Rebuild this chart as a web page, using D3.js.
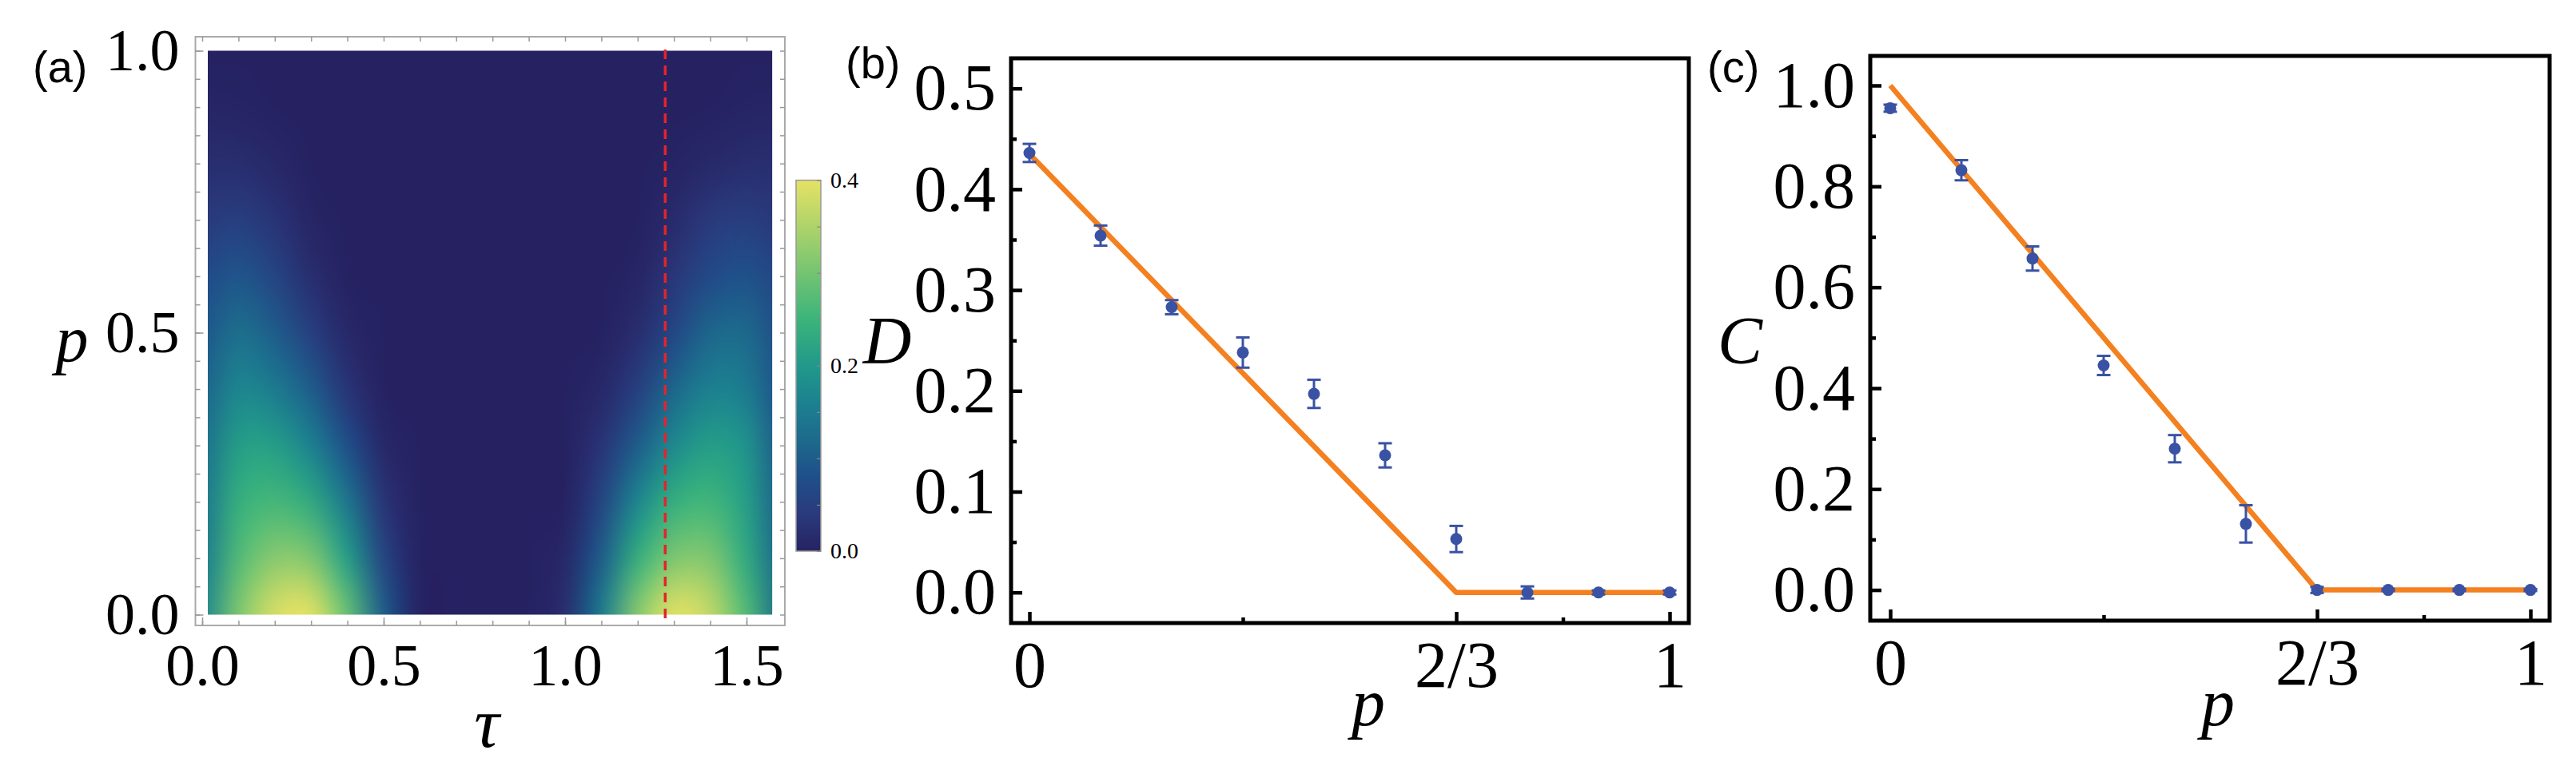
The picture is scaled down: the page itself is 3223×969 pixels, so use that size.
<!DOCTYPE html>
<html>
<head>
<meta charset="utf-8">
<script src="https://cdn.jsdelivr.net/npm/d3@7"></script>
<style>
  body { margin: 0; background: #fff; }
</style>
</head>
<body>
<svg id="chart" width="3223" height="969" font-family="Liberation Serif, Times New Roman, serif"></svg>
<script>
// ---- data ----
// (a) heat map grid: tau = 0, 0.1, ... 1.6 ; p = 0, 0.1, ... 1.0
const tauGrid = [0, 0.1, 0.2, 0.3, 0.4, 0.5, 0.6, 0.7, 0.8, 0.9, 1.0, 1.1, 1.2, 1.3, 1.4, 1.5, 1.6];
const pGrid = [0, 0.1, 0.2, 0.3, 0.4, 0.5, 0.6, 0.7, 0.8, 0.9, 1.0];
const heatRows = [
  [0.17, 0.31, 0.39, 0.40, 0.29, 0.10, 0, 0, 0, 0, 0.02, 0.15, 0.32, 0.40, 0.37, 0.27, 0.12],
  [0.15, 0.27, 0.32, 0.31, 0.21, 0.06, 0, 0, 0, 0, 0.01, 0.10, 0.24, 0.31, 0.31, 0.23, 0.11],
  [0.14, 0.24, 0.26, 0.23, 0.14, 0.03, 0, 0, 0, 0, 0, 0.06, 0.17, 0.24, 0.255, 0.21, 0.10],
  [0.13, 0.21, 0.21, 0.16, 0.08, 0.01, 0, 0, 0, 0, 0, 0.03, 0.10, 0.175, 0.21, 0.19, 0.09],
  [0.11, 0.17, 0.15, 0.10, 0.03, 0, 0, 0, 0, 0, 0, 0.01, 0.05, 0.115, 0.16, 0.15, 0.08],
  [0.09, 0.13, 0.10, 0.05, 0.01, 0, 0, 0, 0, 0, 0, 0, 0.02, 0.065, 0.115, 0.12, 0.07],
  [0.07, 0.09, 0.06, 0.02, 0, 0, 0, 0, 0, 0, 0, 0, 0.005, 0.035, 0.07, 0.085, 0.06],
  [0.04, 0.05, 0.03, 0.005, 0, 0, 0, 0, 0, 0, 0, 0, 0, 0.015, 0.04, 0.048, 0.035],
  [0.02, 0.02, 0.01, 0, 0, 0, 0, 0, 0, 0, 0, 0, 0, 0.003, 0.012, 0.02, 0.02],
  [0.005, 0.004, 0, 0, 0, 0, 0, 0, 0, 0, 0, 0, 0, 0, 0, 0.004, 0.005],
  [0, 0, 0, 0, 0, 0, 0, 0, 0, 0, 0, 0, 0, 0, 0, 0, 0]
];
const tauCut = 1.276;  // red dashed line

// (b), (c) measured points
const pPoints = [0, 1/9, 2/9, 3/9, 4/9, 5/9, 6/9, 7/9, 8/9, 1];
const dValues = [0.436, 0.354, 0.283, 0.238, 0.197, 0.136, 0.053, 0, 0, 0];
const dErrors = [0.009, 0.010, 0.007, 0.015, 0.014, 0.012, 0.013, 0.006, 0.002, 0.002];
const cValues = [0.955, 0.832, 0.657, 0.445, 0.280, 0.131, 0, 0, 0, 0];
const cErrors = [0.007, 0.020, 0.024, 0.019, 0.027, 0.037, 0.006, 0.002, 0.002, 0.002];
const dTheory = [[0, 0.435], [2/3, 0], [1, 0]];
const cTheory = [[0, 1], [2/3, 0], [1, 0]];
const pTickValues = [0, 2/3, 1];
const pTickLabels = ["0", "2/3", "1"];

const svg = d3.select('#chart');
const orange = '#F4801F', blue = '#3A52A3';
const serif = 'Liberation Serif, Times New Roman, serif';
const sans = 'Liberation Sans, Arial, sans-serif';

const heatColor = d3.scaleLinear()
  .domain([0, 0.04, 0.08, 0.12, 0.16, 0.2, 0.25, 0.3, 0.35, 0.4])
  .range(['#262262', '#2a3a7c', '#1f4f8a', '#1d6a8c', '#1c8190', '#21998a', '#3bb47b', '#74c472', '#aed36a', '#e5e264'])
  .clamp(true);

// ---------- panel (a) ----------
(function () {
  const x = d3.scaleLinear().domain([0, 1.5]).range([253, 934]);
  const y = d3.scaleLinear().domain([0, 1]).range([769.5, 63.5]);
  const g = svg.append('g');

  // heat map: small canvas, smoothed when stretched
  const cv = document.createElement('canvas');
  cv.width = tauGrid.length; cv.height = pGrid.length;
  const ctx = cv.getContext('2d');
  heatRows.forEach((row, j) => {
    row.forEach((v, i) => {
      ctx.fillStyle = heatColor(v);
      ctx.fillRect(i, pGrid.length - 1 - j, 1, 1);
    });
  });
  const big = document.createElement('canvas');
  big.width = 340; big.height = 220;
  const bctx = big.getContext('2d');
  bctx.imageSmoothingEnabled = true;
  bctx.imageSmoothingQuality = 'high';
  bctx.drawImage(cv, 0, 0, big.width, big.height);

  svg.append('clipPath').attr('id', 'heatclip').append('rect')
    .attr('x', x(0) + 7).attr('y', y(1.0)).attr('width', x(Math.PI / 2) - x(0) - 7).attr('height', y(0) - y(1.0));
  const dx = (x(0.1) - x(0)) / 2, dy = (y(0) - y(0.1)) / 2;
  g.append('image')
    .attr('href', big.toDataURL())
    .attr('preserveAspectRatio', 'none')
    .attr('x', x(0) - dx).attr('y', y(1) - dy)
    .attr('width', x(1.6) - x(0) + 2 * dx).attr('height', y(0) - y(1) + 2 * dy)
    .attr('clip-path', 'url(#heatclip)');

  // frame
  g.append('rect').attr('x', 244.5).attr('y', 46).attr('width', 982 - 244.5).attr('height', 783 - 46)
    .attr('fill', 'none').attr('stroke', '#aaa').attr('stroke-width', 2);

  // light frame ticks
  const tickStyle = sel => { sel.select('.domain').remove(); sel.selectAll('line').attr('stroke', '#999').attr('stroke-width', 1.5); };
  g.append('g').attr('transform', 'translate(244.5,0)')
    .call(d3.axisLeft(y).tickValues(d3.range(0, 1.001, 0.05)).tickSize(-6).tickFormat(''))
    .call(tickStyle);
  g.append('g').attr('transform', 'translate(982,0)')
    .call(d3.axisRight(y).tickValues(d3.range(0, 1.001, 0.05)).tickSize(-6).tickFormat(''))
    .call(tickStyle);
  g.append('g').attr('transform', 'translate(0,783)')
    .call(d3.axisBottom(x).tickValues(d3.range(0, 1.57, 0.1)).tickSize(-6).tickFormat(''))
    .call(tickStyle);
  g.append('g').attr('transform', 'translate(0,46)')
    .call(d3.axisTop(x).tickValues(d3.range(0, 1.57, 0.1)).tickSize(-6).tickFormat(''))
    .call(tickStyle);

  // labelled axes
  const yAx = g.append('g').attr('transform', 'translate(244.5,0)')
    .call(d3.axisLeft(y).tickValues([0, 0.5, 1]).tickSize(-10).tickPadding(20).tickFormat(d3.format('.1f')));
  const xAx = g.append('g').attr('transform', 'translate(0,783)')
    .call(d3.axisBottom(x).tickValues([0, 0.5, 1, 1.5]).tickSize(-10).tickPadding(22).tickFormat(d3.format('.1f')));
  [yAx, xAx].forEach(a => {
    a.attr('font-family', serif);
    a.select('.domain').remove();
    a.selectAll('line').attr('stroke', '#999').attr('stroke-width', 1.5);
    a.selectAll('text').attr('font-size', 74).attr('fill', '#000');
  });

  // red dashed line
  g.append('line').attr('x1', x(tauCut)).attr('x2', x(tauCut)).attr('y1', 62).attr('y2', 777)
    .attr('stroke', '#E3242B').attr('stroke-width', 3.5).attr('stroke-dasharray', '12,8');

  // colour bar
  const yc = d3.scaleLinear().domain([0, 0.4]).range([690, 225.6]);
  const grad = svg.append('defs').append('linearGradient').attr('id', 'cbar')
    .attr('x1', 0).attr('x2', 0).attr('y1', 1).attr('y2', 0);
  heatColor.domain().forEach(v => grad.append('stop').attr('offset', v / 0.4).attr('stop-color', heatColor(v)));
  g.append('rect').attr('x', 996).attr('y', yc(0.4)).attr('width', 31).attr('height', yc(0) - yc(0.4))
    .attr('fill', 'url(#cbar)').attr('stroke', '#999').attr('stroke-width', 1.5);
  const cAx = g.append('g').attr('transform', 'translate(1027,0)')
    .call(d3.axisRight(yc).tickValues(d3.range(0, 0.401, 0.05)).tickSize(-5).tickPadding(12)
      .tickFormat(d => [0, 0.2, 0.4].some(t => Math.abs(t - d) < 1e-6) ? d3.format('.1f')(d) : ''));
  cAx.attr('font-family', serif);
  cAx.select('.domain').remove();
  cAx.selectAll('line').attr('stroke', '#888').attr('stroke-width', 1.2);
  cAx.selectAll('text').attr('font-size', 28).attr('fill', '#000');

  // labels
  g.append('text').attr('x', 41).attr('y', 103).text('(a)')
    .attr('font-family', sans).attr('font-size', 56);
  g.append('text').attr('x', 90).attr('y', 452).text('p')
    .attr('font-style', 'italic').attr('font-size', 82).attr('text-anchor', 'middle');
  g.append('text').attr('x', 609).attr('y', 935).text('τ')
    .attr('font-style', 'italic').attr('font-size', 88).attr('text-anchor', 'middle');
})();

// ---------- panels (b), (c) ----------
function linePanel(opt) {
  const x = d3.scaleLinear().domain([0, 1]).range(opt.xRange);
  const y = d3.scaleLinear().domain(opt.yDomain).range(opt.yRange);
  const g = svg.append('g');
  const [fl, fr, ft, fb] = opt.frame;

  const styleAxis = a => {
    a.attr('font-family', serif);
    a.select('.domain').remove();
    a.selectAll('line').attr('stroke', '#000').attr('stroke-width', 4.5);
    a.selectAll('text').attr('font-size', 82).attr('fill', '#000');
  };

  // minor ticks
  g.append('g').attr('transform', `translate(${fl},0)`)
    .call(d3.axisLeft(y).tickValues(opt.yMinor).tickSize(-7).tickFormat('')).call(styleAxis);
  g.append('g').attr('transform', `translate(0,${fb})`)
    .call(d3.axisBottom(x).tickValues([1/3, 5/6]).tickSize(-7).tickFormat('')).call(styleAxis);
  // major ticks
  g.append('g').attr('transform', `translate(${fl},0)`)
    .call(d3.axisLeft(y).tickValues(opt.yMajor).tickSize(-14).tickPadding(19).tickFormat(d3.format('.1f')))
    .call(styleAxis);
  g.append('g').attr('transform', `translate(0,${fb})`)
    .call(d3.axisBottom(x).tickValues(pTickValues).tickSize(-14).tickPadding(22)
      .tickFormat((d, i) => pTickLabels[i]))
    .call(styleAxis);

  // theory line
  g.append('path').datum(opt.theory)
    .attr('d', d3.line().x(d => x(d[0])).y(d => y(d[1])))
    .attr('fill', 'none').attr('stroke', orange).attr('stroke-width', 6.5).attr('stroke-linejoin', 'round');

  // error bars and points
  const pts = pPoints.map((p, i) => ({ p, v: opt.values[i], e: opt.errors[i] }));
  const eb = g.append('g').attr('stroke', blue).attr('stroke-width', 3);
  pts.forEach(d => {
    eb.append('line').attr('x1', x(d.p)).attr('x2', x(d.p)).attr('y1', y(d.v - d.e)).attr('y2', y(d.v + d.e));
    [d.v - d.e, d.v + d.e].forEach(v =>
      eb.append('line').attr('x1', x(d.p) - 8.5).attr('x2', x(d.p) + 8.5).attr('y1', y(v)).attr('y2', y(v)));
  });
  g.selectAll('circle.pt').data(pts).enter().append('circle')
    .attr('cx', d => x(d.p)).attr('cy', d => y(d.v)).attr('r', 7.5).attr('fill', blue);

  // frame
  g.append('rect').attr('x', fl).attr('y', ft).attr('width', fr - fl).attr('height', fb - ft)
    .attr('fill', 'none').attr('stroke', '#000').attr('stroke-width', 5);

  // labels
  g.append('text').attr('x', opt.tag[0]).attr('y', opt.tag[1]).text(opt.tagText)
    .attr('font-family', sans).attr('font-size', 56);
  g.append('text').attr('x', opt.yLab[0]).attr('y', opt.yLab[1]).text(opt.yLabText)
    .attr('font-style', 'italic').attr('font-size', 84).attr('text-anchor', 'middle');
  g.append('text').attr('x', opt.xLab).attr('y', 908).text('p')
    .attr('font-style', 'italic').attr('font-size', 84).attr('text-anchor', 'middle');
}

linePanel({
  xRange: [1288, 2089], yDomain: [0, 0.5], yRange: [741.7, 110.7],
  frame: [1265, 2113, 73, 780],
  yMajor: [0, 0.1, 0.2, 0.3, 0.4, 0.5], yMinor: [0.05, 0.15, 0.25, 0.35, 0.45],
  theory: dTheory, values: dValues, errors: dErrors,
  tag: [1058, 98], tagText: '(b)', yLab: [1110, 455], yLabText: 'D', xLab: 1712
});

linePanel({
  xRange: [2365, 3166], yDomain: [0, 1], yRange: [738.6, 107],
  frame: [2340, 3190, 70, 777],
  yMajor: [0, 0.2, 0.4, 0.6, 0.8, 1.0], yMinor: [0.1, 0.3, 0.5, 0.7, 0.9],
  theory: cTheory, values: cValues, errors: cErrors,
  tag: [2136, 103], tagText: '(c)', yLab: [2177, 455], yLabText: 'C', xLab: 2775
});
</script>
</body>
</html>
